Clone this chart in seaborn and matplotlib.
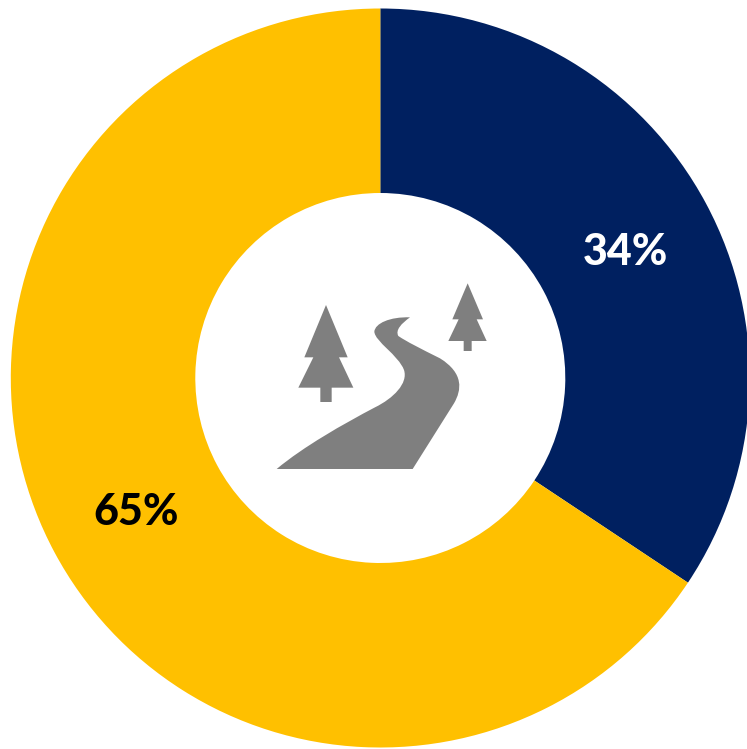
import matplotlib
matplotlib.use("Agg")
import matplotlib.pyplot as plt
from matplotlib.patches import PathPatch, Polygon
from matplotlib.path import Path
from matplotlib.transforms import Affine2D
import seaborn as sns

sns.set_theme(style="white")
plt.rcParams["font.family"] = ["Lato", "DejaVu Sans"]

# Shares of the ring, clockwise from twelve o'clock
labels = ["34%", "65%"]
shares = [34, 65]
ring_colors = sns.color_palette(["#002060", "#FFC000"])
label_colors = ["white", "black"]
label_positions = [(625, 252), (136, 512)]
ICON_GREY = "#7F7F7F"

W, H = 747, 749
fig = plt.figure(figsize=(W / 100, H / 100), dpi=100, facecolor="white")

# Pixel-addressed axes, y pointing down
ax = fig.add_axes([0, 0, 1, 1])
ax.set_xlim(0, W)
ax.set_ylim(H, 0)
ax.axis("off")

# Ring drawn on its own axes so the wedges run clockwise from the top
CX, CY, R = 380.3, 378, 369.5
ring_ax = fig.add_axes([0, 0, 1, 1], zorder=0)
ring_ax.set_xlim(0, W)
ring_ax.set_ylim(0, H)
ring_ax.axis("off")
ring_ax.pie(
    shares,
    colors=ring_colors,
    startangle=90,
    counterclock=False,
    center=(CX, H - CY),
    radius=R,
    wedgeprops={"width": R - 185, "linewidth": 0},
    frame=False,
)
ring_ax.set_xlim(0, W)
ring_ax.set_ylim(0, H)
ring_ax.set_aspect("auto")
ax.set_zorder(1)
ax.patch.set_alpha(0)

for text, color, (x, y) in zip(labels, label_colors, label_positions):
    ax.text(x, y, text, color=color, fontsize=31, fontweight=900,
            ha="center", va="center")

# Road and pine icon in the hole, outlined on a 3x grid
icon_tf = Affine2D().scale(1 / 3).translate(260, 270) + ax.transData

left_tree = [(198, 105), (263, 262), (237, 262), (280, 353), (215, 353), (215, 396),
             (181, 396), (181, 353), (115, 353), (160, 262), (133, 262)]
right_tree = [(623, 40), (669, 148), (650, 148), (680, 213), (635, 213), (635, 243),
              (611, 243), (611, 213), (565, 213), (596, 148), (577, 148)]
for outline in (left_tree, right_tree):
    ax.add_patch(Polygon(outline, closed=True, facecolor=ICON_GREY,
                         edgecolor="none", transform=icon_tf))

M, L, C = Path.MOVETO, Path.LINETO, Path.CURVE4
road = Path(
    [(50, 597), (458, 597), (582, 400),
     (605, 360), (612, 310), (540, 265),
     (480, 235), (440, 215), (415, 198),
     (405, 180), (425, 160), (450, 142),
     (390, 140), (345, 160), (343, 185),
     (345, 215), (415, 255), (432, 300),
     (445, 340), (400, 385), (345, 412),
     (250, 462), (130, 530), (50, 597)],
    [M, L, L, C, C, C, C, C, C, C, C, C, C, C, C, C, C, C, C, C, C, C, C, C],
)
ax.add_patch(PathPatch(road, facecolor=ICON_GREY, edgecolor="none", transform=icon_tf))

fig.savefig("out.png", dpi=100, facecolor="white")
